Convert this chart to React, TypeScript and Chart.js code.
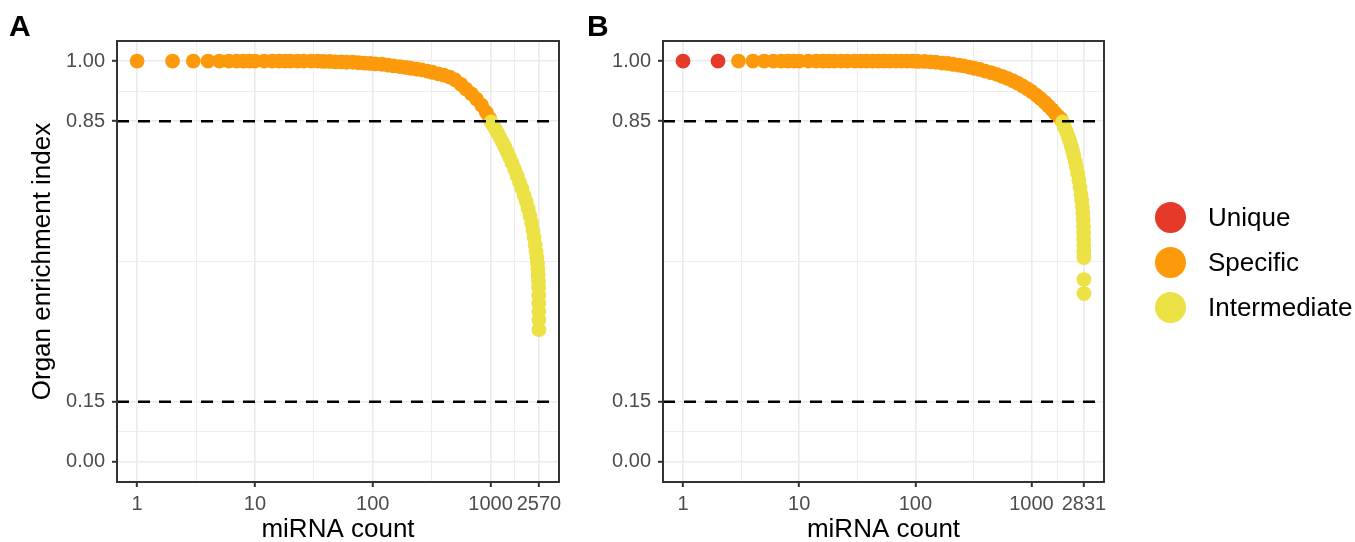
import React, { useEffect, useRef } from 'react';
import { Chart, registerables } from 'chart.js';

Chart.register(...registerables);

const FONT = "'Liberation Sans', Arial, Helvetica, sans-serif";
Chart.defaults.font.family = FONT;

// ---------------- Panel A data (rank vs organ enrichment index) ----------------
const aSpecificRank = [1, 2, 3, 4, 5, 6, 7, 8, 9, 10, 12, 14, 16, 18, 20, 23, 26, 30, 34, 38, 43, 48, 54, 60, 68, 76, 85, 95, 105, 120, 135, 150, 170, 190, 210, 235, 260, 290, 320, 360, 400, 450, 500, 560, 620, 690, 760, 840, 920, 980];
const aSpecificValue = [1, 1, 1, 1, 1, 1, 1, 1, 1, 1, 1, 1, 1, 1, 1, 1, 1, 1, 1, 0.999, 0.999, 0.998, 0.998, 0.997, 0.997, 0.996, 0.995, 0.994, 0.993, 0.992, 0.99, 0.988, 0.986, 0.984, 0.982, 0.98, 0.978, 0.975, 0.972, 0.968, 0.965, 0.96, 0.953, 0.942, 0.93, 0.918, 0.905, 0.89, 0.872, 0.857];
const aIntermediateRank = [1010, 1050, 1100, 1150, 1200, 1260, 1320, 1380, 1450, 1520, 1600, 1680, 1760, 1840, 1920, 2000, 2080, 2160, 2230, 2290, 2340, 2390, 2430, 2470, 2500, 2520, 2535, 2548, 2556, 2562, 2566, 2568, 2569, 2570];
const aIntermediateValue = [0.848, 0.84, 0.83, 0.82, 0.81, 0.798, 0.786, 0.774, 0.76, 0.746, 0.73, 0.714, 0.698, 0.682, 0.666, 0.65, 0.632, 0.614, 0.596, 0.578, 0.56, 0.542, 0.525, 0.51, 0.495, 0.48, 0.465, 0.45, 0.435, 0.415, 0.395, 0.375, 0.355, 0.33];
const aMaxRank = 2570;
const aXTicks = [1, 10, 100, 1000, 2570];

// ---------------- Panel B data ----------------
const bUniqueRank = [1, 2];
const bUniqueValue = [1, 1];
const bSpecificRank = [3, 4, 5, 6, 7, 8, 9, 10, 12, 14, 16, 18, 20, 23, 26, 30, 34, 38, 43, 48, 54, 60, 68, 76, 85, 95, 105, 120, 135, 150, 170, 190, 210, 235, 260, 290, 320, 360, 400, 450, 500, 560, 620, 690, 760, 840, 920, 1000, 1100, 1200, 1300, 1400, 1500, 1600, 1700, 1800];
const bSpecificValue = [1, 1, 1, 1, 1, 1, 1, 1, 1, 1, 1, 1, 1, 1, 1, 1, 1, 1, 1, 1, 1, 1, 1, 1, 1, 1, 0.999, 0.999, 0.998, 0.997, 0.995, 0.994, 0.992, 0.99, 0.988, 0.985, 0.982, 0.979, 0.975, 0.971, 0.967, 0.962, 0.957, 0.951, 0.945, 0.938, 0.931, 0.924, 0.915, 0.906, 0.897, 0.888, 0.879, 0.87, 0.862, 0.855];
const bIntermediateRank = [1850, 1900, 1960, 2020, 2080, 2140, 2200, 2260, 2320, 2380, 2440, 2500, 2560, 2620, 2670, 2710, 2745, 2770, 2790, 2803, 2812, 2818, 2822, 2825, 2827, 2829, 2831];
const bIntermediateValue = [0.848, 0.84, 0.83, 0.82, 0.81, 0.8, 0.788, 0.776, 0.763, 0.75, 0.735, 0.72, 0.703, 0.685, 0.668, 0.652, 0.636, 0.62, 0.604, 0.588, 0.572, 0.556, 0.54, 0.525, 0.51, 0.455, 0.42];
const bMaxRank = 2831;
const bXTicks = [1, 10, 100, 1000, 2831];

// ---------------- shared ----------------
const yTicks = [0, 0.15, 0.85, 1];
const thresholds = [0.15, 0.85];
const categories = ['Unique', 'Specific', 'Intermediate'];
const COLORS: Record<string, string> = {
  Unique: '#E5392A',
  Specific: '#FD9A0C',
  Intermediate: '#ECE145',
};
const X_TITLE = 'miRNA count';
const Y_TITLE = 'Organ enrichment index';

type Series = { label: string; rank: number[]; value: number[] };

const near = (a: number, b: number) => Math.abs(a - b) < 1e-6 * Math.max(1, Math.abs(b));
const inList = (list: number[], v: number) => list.some((t) => near(t, v));

const borderPlugin = {
  id: 'panelBorder',
  afterDatasetsDraw(chart: any) {
    const { ctx, chartArea } = chart;
    const { left, top, right, bottom } = chartArea;
    ctx.save();
    ctx.strokeStyle = '#333333';
    ctx.lineWidth = 2;
    ctx.strokeRect(left, top, right - left, bottom - top);
    ctx.restore();
  },
};

function buildChart(
  canvas: HTMLCanvasElement,
  series: Series[],
  xTicks: number[],
  maxRank: number,
  opts: { yAxisWidth: number; showYTitle: boolean; padRight: number }
) {
  const logMax = Math.log10(maxRank);
  const xMin = Math.pow(10, -0.05 * logMax);
  const xMax = Math.pow(10, 1.05 * logMax);

  const xMinor: number[] = [];
  for (let i = 0; i < xTicks.length - 1; i++) xMinor.push(Math.sqrt(xTicks[i] * xTicks[i + 1]));
  const xGrid = [...xTicks, ...xMinor].sort((a, b) => a - b);

  const yMinor: number[] = [];
  for (let i = 0; i < yTicks.length - 1; i++) yMinor.push((yTicks[i] + yTicks[i + 1]) / 2);
  const yGrid = [...yTicks, ...yMinor].sort((a, b) => a - b);

  const orderOf: Record<string, number> = { Intermediate: 1, Specific: 2, Unique: 3 };

  const pointSets = series.map((s) => ({
    label: s.label,
    data: s.rank.map((r, i) => ({ x: r, y: s.value[i] })),
    backgroundColor: COLORS[s.label],
    borderColor: COLORS[s.label],
    borderWidth: 0,
    pointRadius: 7.4,
    pointHoverRadius: 7.4,
    order: orderOf[s.label],
  }));

  const lineSets = thresholds.map((t) => ({
    label: 'threshold ' + t,
    data: [
      { x: xMin, y: t },
      { x: xMax, y: t },
    ],
    showLine: true,
    borderColor: '#000000',
    borderWidth: 2.6,
    borderDash: [12, 9],
    pointRadius: 0,
    pointHoverRadius: 0,
    order: 0,
  }));

  const tickFont = { size: 20, family: FONT };
  const titleFont = { size: 26, family: FONT, lineHeight: 0.9 };

  return new Chart(canvas, {
    type: 'scatter',
    data: { datasets: [...lineSets, ...pointSets] as any },
    plugins: [borderPlugin],
    options: {
      responsive: false,
      animation: false,
      events: [],
      layout: { padding: { left: 0, top: 41, right: opts.padRight, bottom: 0 } },
      plugins: { legend: { display: false }, tooltip: { enabled: false } },
      scales: {
        x: {
          type: 'logarithmic',
          min: xMin,
          max: xMax,
          afterBuildTicks: (s: any) => {
            s.ticks = xGrid.map((v) => ({ value: v }));
          },
          afterFit: (s: any) => {
            s.height = 60;
          },
          ticks: {
            autoSkip: false,
            maxRotation: 0,
            minRotation: 0,
            padding: 5,
            color: '#4D4D4D',
            font: tickFont,
            callback: (v: any) => (inList(xTicks, Number(v)) ? String(Math.round(Number(v))) : ''),
          },
          grid: {
            color: '#EBEBEB',
            lineWidth: (c: any) => (c.tick && inList(xTicks, c.tick.value) ? 1.6 : 0.9),
            drawTicks: true,
            tickLength: 5,
            tickWidth: 2,
            tickColor: (c: any) => (c.tick && inList(xTicks, c.tick.value) ? '#333333' : 'rgba(0,0,0,0)'),
          },
          border: { display: false },
          title: {
            display: true,
            text: X_TITLE,
            color: '#000000',
            font: titleFont,
            padding: { top: 0, bottom: 0 },
          },
        },
        y: {
          type: 'linear',
          min: -0.05,
          max: 1.05,
          afterBuildTicks: (s: any) => {
            s.ticks = yGrid.map((v) => ({ value: v }));
          },
          afterFit: (s: any) => {
            s.width = opts.yAxisWidth;
          },
          ticks: {
            autoSkip: false,
            padding: 7,
            color: '#4D4D4D',
            font: tickFont,
            callback: (v: any) => (inList(yTicks, Number(v)) ? Number(v).toFixed(2) : ''),
          },
          grid: {
            color: '#EBEBEB',
            lineWidth: (c: any) => (c.tick && inList(yTicks, c.tick.value) ? 1.6 : 0.9),
            drawTicks: true,
            tickLength: 5,
            tickWidth: 2,
            tickColor: (c: any) => (c.tick && inList(yTicks, c.tick.value) ? '#333333' : 'rgba(0,0,0,0)'),
          },
          border: { display: false },
          title: {
            display: opts.showYTitle,
            text: Y_TITLE,
            color: '#000000',
            font: { size: 26, family: FONT, lineHeight: 1 },
            padding: { top: 30, bottom: 0 },
          },
        },
      },
    } as any,
  });
}

export default function App() {
  const refA = useRef<HTMLCanvasElement>(null);
  const refB = useRef<HTMLCanvasElement>(null);

  useEffect(() => {
    const seriesA: Series[] = [
      { label: 'Specific', rank: aSpecificRank, value: aSpecificValue },
      { label: 'Intermediate', rank: aIntermediateRank, value: aIntermediateValue },
    ];
    const seriesB: Series[] = [
      { label: 'Unique', rank: bUniqueRank, value: bUniqueValue },
      { label: 'Specific', rank: bSpecificRank, value: bSpecificValue },
      { label: 'Intermediate', rank: bIntermediateRank, value: bIntermediateValue },
    ];
    const cA = buildChart(refA.current!, seriesA, aXTicks, aMaxRank, { yAxisWidth: 117, showYTitle: true, padRight: 21 });
    const cB = buildChart(refB.current!, seriesB, bXTicks, bMaxRank, { yAxisWidth: 83, showYTitle: false, padRight: 56 });
    return () => {
      cA.destroy();
      cB.destroy();
    };
  }, []);

  const panelLabel = (left: number): React.CSSProperties => ({
    position: 'absolute',
    left,
    top: 11,
    fontFamily: FONT,
    fontWeight: 'bold',
    fontSize: 30,
    lineHeight: '30px',
    color: '#000',
  });

  return (
    <div
      style={{
        position: 'absolute',
        left: 0,
        top: 0,
        width: 1355,
        height: 542,
        background: '#ffffff',
        overflow: 'hidden',
        fontFamily: FONT,
      }}
    >
      <canvas ref={refA} width={580} height={542} style={{ position: 'absolute', left: 0, top: 0 }} />
      <canvas ref={refB} width={580} height={542} style={{ position: 'absolute', left: 580, top: 0 }} />
      <div style={panelLabel(9)}>A</div>
      <div style={panelLabel(587)}>B</div>
      {categories.map((c, i) => (
        <div key={c}>
          <div
            style={{
              position: 'absolute',
              left: 1170 - 15.5,
              top: 217 + i * 45 - 15.5,
              width: 31,
              height: 31,
              borderRadius: '50%',
              background: COLORS[c],
            }}
          />
          <div
            style={{
              position: 'absolute',
              left: 1208,
              top: 217 + i * 45 - 13,
              fontSize: 26,
              lineHeight: '26px',
              color: '#000',
              whiteSpace: 'nowrap',
            }}
          >
            {c}
          </div>
        </div>
      ))}
    </div>
  );
}
